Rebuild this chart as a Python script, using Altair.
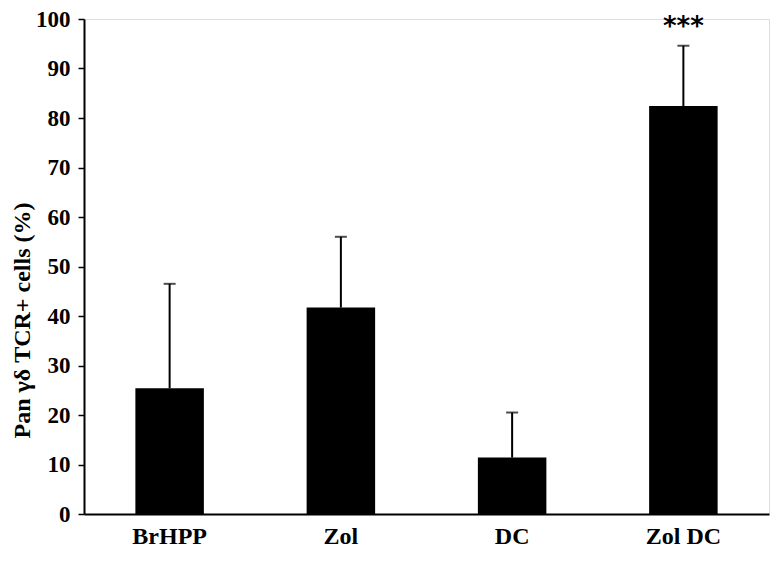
import altair as alt
import pandas as pd

categories = ["BrHPP", "Zol", "DC", "Zol DC"]
means = [25.4, 41.7, 11.4, 82.4]
upper = [46.5, 56.0, 20.5, 94.6]
marks = ["", "", "", "***"]
y_ticks = [0, 10, 20, 30, 40, 50, 60, 70, 80, 90, 100]

df = pd.DataFrame({"group": categories, "mean": means, "upper": upper, "sig": marks})

FONT = "Liberation Serif"

x = alt.X(
    "group:N",
    sort=categories,
    scale=alt.Scale(paddingInner=0.6, paddingOuter=0.3),
    axis=alt.Axis(
        title=None, labelAngle=0, ticks=False, tickSize=0, labelPadding=10,
        labelFont=FONT, labelFontSize=24, labelFontWeight="bold", labelColor="black",
        domainColor="black", domainWidth=2,
    ),
)
yscale = alt.Scale(domain=[0, 100], nice=False)
y = alt.Y(
    "mean:Q",
    scale=yscale,
    axis=alt.Axis(
        title="Pan γδ TCR+ cells (%)", values=y_ticks, grid=False,
        tickSize=6, tickWidth=1.5, tickColor="black", labelPadding=8,
        labelFont=FONT, labelFontSize=23, labelFontWeight="bold", labelColor="black",
        domainColor="black", domainWidth=2,
        titleFont=FONT, titleFontSize=24, titleFontWeight="bold", titleColor="black",
        titleX=-50, titleY=301,
    ),
)

base = alt.Chart(df)
bars = base.mark_bar(color="black").encode(x=x, y=y)
rule = base.mark_rule(color="black", strokeWidth=2).encode(
    x=alt.X("group:N", sort=categories), y=alt.Y("mean:Q", scale=yscale), y2="upper:Q"
)
cap = base.mark_tick(color="black", size=12, thickness=2, orient="horizontal").encode(
    x=alt.X("group:N", sort=categories), y=alt.Y("upper:Q", scale=yscale)
)
stars = base.mark_text(
    font="DejaVu Sans", fontSize=26, fontWeight="bold", color="black",
    baseline="alphabetic", dy=-11,
).encode(x=alt.X("group:N", sort=categories), y=alt.Y("upper:Q", scale=yscale), text="sig:N")

chart = (
    alt.layer(bars, rule, cap, stars)
    .properties(
        width=685, height=495,
        autosize=alt.AutoSizeParams(type="none"),
        padding={"left": 76, "top": 11, "right": 6, "bottom": 40},
    )
    .configure_view(stroke=None)
    .configure(background="white")
)

chart.save("out.html", embed_options={"renderer": "svg", "actions": False})
